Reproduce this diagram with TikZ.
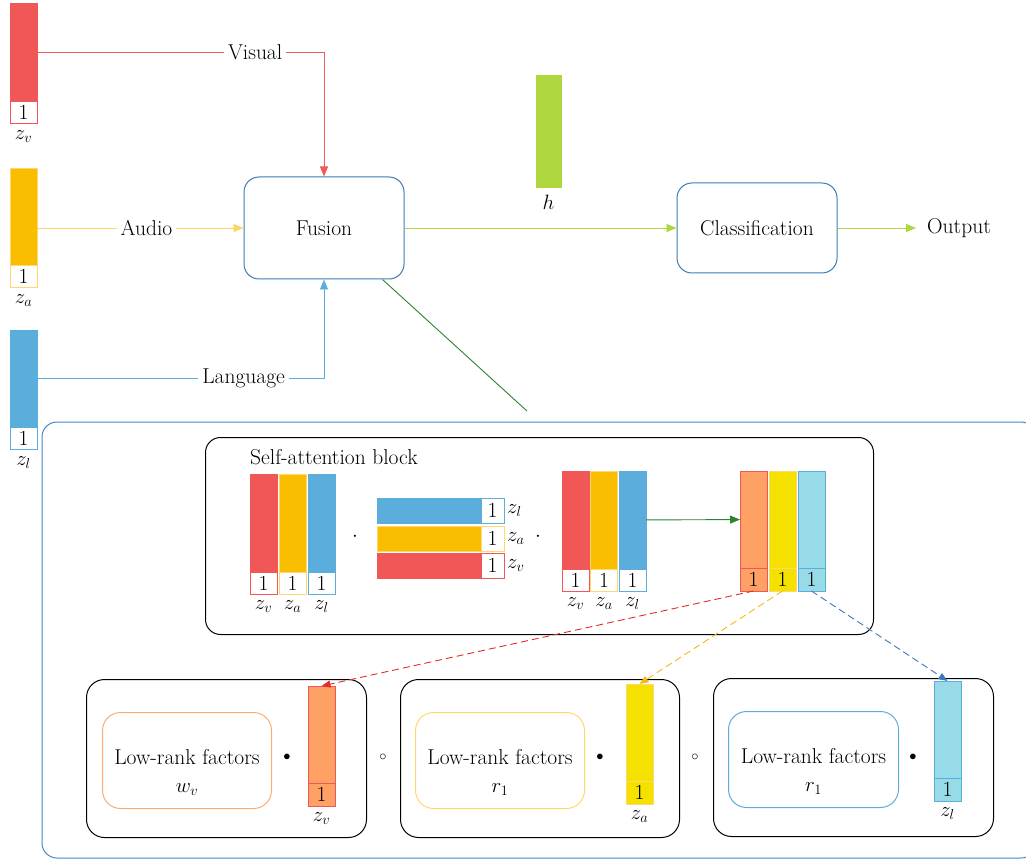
\documentclass[tikz,border=0pt]{standalone}
\usepackage{amsmath,amssymb}
\usepackage{tikz}
\usetikzlibrary{arrows.meta, positioning}

\definecolor{vred}{RGB}{242,87,87}
\definecolor{vyel}{RGB}{249,190,0}
\definecolor{vblue}{RGB}{91,174,220}
\definecolor{hgreen}{RGB}{174,214,62}
\definecolor{dgreen}{RGB}{46,130,46}
\definecolor{vorange}{RGB}{255,160,100}
\definecolor{byel}{RGB}{245,225,0}
\definecolor{vcyan}{RGB}{151,219,232}
\definecolor{pyel}{RGB}{255,215,110}
\definecolor{lorange}{RGB}{255,170,110}
\definecolor{boxblue}{RGB}{60,125,180}
\definecolor{frameblue}{RGB}{74,134,200}
\definecolor{visred}{RGB}{240,90,90}
\definecolor{audyel}{RGB}{255,210,100}
\definecolor{dred}{RGB}{225,45,40}
\definecolor{dyel}{RGB}{245,185,20}
\definecolor{dblue}{RGB}{60,120,190}

\begin{document}
\begin{tikzpicture}[x=1pt, y=-1pt, font=\fontsize{21.5}{25}\selectfont,
    bar/.style={draw, anchor=north west, minimum width=27, inner sep=0, outer sep=0, line width=0.9pt},
    cell/.style={draw, minimum width=27, minimum height=22, inner sep=0, outer sep=0, line width=0.9pt},
    hbar/.style={draw, anchor=north west, minimum height=25, inner sep=0, outer sep=0, line width=0.9pt},
    sub/.style={inner sep=1pt},
    block/.style={draw, rounded corners=15, line width=1pt},
    tag/.style={fill=white, text=black, inner sep=4},
    op/.style={font=\fontsize{14}{16}\selectfont, inner sep=0},
    arr/.style={-{Triangle[length=10pt, width=8pt]}, line width=0.9pt},
    darr/.style={-{Triangle[length=9pt, width=7pt]}, dash pattern=on 7pt off 4pt, line width=0.9pt}]
    \useasboundingbox (0,0) rectangle (1026,861);

    % Input vectors
    \node (zv) [bar, fill=vred, draw=vred, minimum height=98] at (10,3) {};
    \node (zvc) [cell, draw=vred, below=0pt of zv] {1};
    \node [sub, below=6pt of zvc] {$z_v$};
    \node (za) [bar, fill=vyel, draw=pyel, minimum height=97] at (10,168) {};
    \node (zac) [cell, draw=pyel, below=0pt of za] {1};
    \node [sub, below=6pt of zac] {$z_a$};
    \node (zl) [bar, fill=vblue, draw=vblue, minimum height=97] at (10,330) {};
    \node (zlc) [cell, draw=vblue, below=0pt of zl] {1};
    \node [sub, below=6pt of zlc] {$z_l$};

    % Main path
    \node (fusion) [block, draw=boxblue, minimum width=160, minimum height=102] at (324,228) {Fusion};
    \node (cls) [block, draw=boxblue, minimum width=160, minimum height=90] at (757,228) {Classification};
    \node (out) [inner xsep=11, anchor=west] at (916,228) {Output};
    \node (hv) [bar, fill=hgreen, draw=hgreen, minimum width=25, minimum height=112] at (536,75) {};
    \node [below=5pt of hv] {$h$};

    \draw [arr, visred] (zv.east) -| (fusion.north) node [tag, pos=0.38] {Visual};
    \draw [arr, audyel] (fusion.west -| za.east) -- (fusion.west) node [tag, pos=0.53] {Audio};
    \draw [arr, vblue] (zl.east) -| (fusion.south) node [tag, pos=0.36] {Language};
    \draw [arr, hgreen] (fusion) -- (cls);
    \draw [arr, hgreen] (cls) -- (out);

    % Zoom into fusion
    \coordinate (zoomend) at (527,411);
    \draw [dgreen, line width=0.9pt] ([xshift=-22pt]fusion.south east) -- (zoomend);
    \draw [frameblue, line width=1pt, rounded corners=15] (42,422) rectangle (1036,858);

    % Self-attention block
    \node (sab) [block, draw=black, minimum width=668, minimum height=197, anchor=north west] at (205,437) {};
    \node [anchor=west, inner sep=0] at (250,457) {Self-attention block};

    \foreach \c/\col/\bd [count=\i] in {v/vred/vred, a/vyel/pyel, l/vblue/vblue} {
        \node (key\i) [bar, fill=\col, draw=\bd, minimum height=98] at ({250+29*(\i-1)},474) {};
        \node (keyc\i) [cell, draw=\bd, below=0pt of key\i] {1};
        \node [sub, below=5pt of keyc\i] {$z_\c$};
    }
    \foreach \c/\col/\bd/\yy [count=\i] in {l/vblue/vblue/498, a/vyel/pyel/526, v/vred/vred/553} {
        \node (qry\i) [hbar, fill=\col, draw=\bd, minimum width=104] at (377,\yy) {};
        \node (qryc\i) [cell, draw=\bd, minimum width=23, minimum height=25, right=0pt of qry\i] {1};
        \node [sub, right=2pt of qryc\i] {$z_\c$};
    }
    \foreach \c/\col/\bd [count=\i] in {v/vred/vred, a/vyel/pyel, l/vblue/vblue} {
        \node (val\i) [bar, fill=\col, draw=\bd, minimum height=98] at ({562+28.5*(\i-1)},471) {};
        \node (valc\i) [cell, draw=\bd, below=0pt of val\i] {1};
        \node [sub, below=5pt of valc\i] {$z_\c$};
    }
    \node (dot1) at (355,537) {$\cdot$};
    \node (dot2) at (538,537) {$\cdot$};

    \foreach \col/\bd [count=\i] in {vorange/vred, byel/pyel, vcyan/vblue} {
        \node (att\i) [bar, fill=\col, draw=\bd, minimum height=97] at ({740+29*(\i-1)},471) {};
        \node (attc\i) [cell, fill=\col, draw=\bd, minimum height=23, below=0pt of att\i] {1};
    }
    \draw [arr, dgreen] (val3) -- (att1);

    % Low-rank fusion blocks
    \node (fac1) [block, rounded corners=18, minimum width=280, minimum height=158, anchor=north west] at (86,679) {};
    \node (fac2) [block, rounded corners=18, minimum width=279, minimum height=158, anchor=north west] at (400,679) {};
    \node (fac3) [block, rounded corners=18, minimum width=280, minimum height=158, anchor=north west] at (713,678) {};

    \node (lr1) [block, rounded corners=18, draw=lorange, minimum width=169, minimum height=96, anchor=north west] at (102,712) {};
    \node (lr2) [block, rounded corners=18, draw=pyel, minimum width=169, minimum height=96, anchor=north west] at (415,712) {};
    \node (lr3) [block, rounded corners=18, draw=vblue, minimum width=170, minimum height=96, anchor=north west] at (728,711) {};
    \node [align=center] at ([yshift=-12pt]lr1.center) {Low-rank factors\\[3pt]$w_v$};
    \node [align=center] at ([yshift=-12pt]lr2.center) {Low-rank factors\\[3pt]$r_1$};
    \node [align=center] at ([yshift=-12pt]lr3.center) {Low-rank factors\\[3pt]$r_1$};

    \foreach \n/\col/\bd/\xx/\yy/\c in {1/vorange/vred/308/686/v, 2/byel/pyel/626/684/a, 3/vcyan/vblue/934/681/l} {
        \node (fz\n) [bar, fill=\col, draw=\bd, minimum height=97] at (\xx,\yy) {};
        \node (fzc\n) [cell, fill=\col, draw=\bd, minimum height=23, below=0pt of fz\n] {1};
        \node [sub, below=5pt of fzc\n] {$z_\c$};
    }

    \node (mul1) [op] at (287,757) {$\bullet$};
    \node (mul2) [op] at (600,757) {$\bullet$};
    \node (mul3) [op] at (913,757) {$\bullet$};
    \node (had1) [op] at (383,757) {$\circ$};
    \node (had2) [op] at (695,757) {$\circ$};

    % Split attention output
    \draw [darr, dred] (attc1.south) -- (fz1.north);
    \draw [darr, dyel] (attc2.south) -- (fz2.north);
    \draw [darr, dblue] (attc3.south) -- (fz3.north);
\end{tikzpicture}
\end{document}
